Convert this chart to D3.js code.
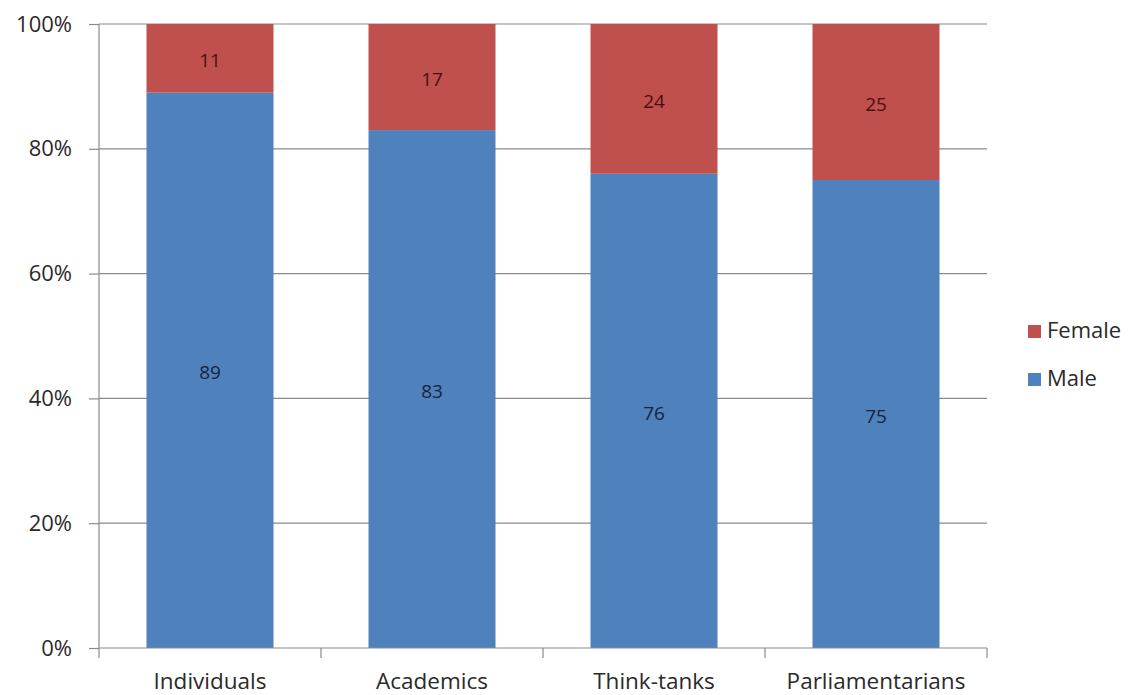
<!DOCTYPE html>
<html>
<head>
<meta charset="utf-8">
<script src="https://cdn.jsdelivr.net/npm/d3@7"></script>
<style>
  html, body { margin: 0; padding: 0; background: #fff; }
  svg { display: block; font-family: "Open Sans", "DejaVu Sans", sans-serif; }
</style>
</head>
<body>
<svg id="chart" width="1148" height="695"></svg>
<script>
// Share of contributors by gender in each group (percent)
const categories = ["Individuals", "Academics", "Think-tanks", "Parliamentarians"];
const male = [89, 83, 76, 75];
const female = [11, 17, 24, 25];
const seriesNames = ["Male", "Female"];
const yTicks = [0, 20, 40, 60, 80, 100];

const colors = { Male: "#4F81BD", Female: "#C0504D" };
const labelColors = { Male: "#16243d", Female: "#4a0f0f" };

const svg = d3.select("#chart");
const margin = { left: 99, right: 161, top: 24, bottom: 47 };
const W = 1148, H = 695;
const x0 = margin.left, x1 = W - margin.right;
const yTop = margin.top, yBot = H - margin.bottom;

const x = d3.scaleBand().domain(categories).range([x0, x1])
  .paddingInner(0.428).paddingOuter(0.214);
const y = d3.scaleLinear().domain([0, 100]).range([yBot, yTop]);

const rows = categories.map((c, i) => ({ category: c, Male: male[i], Female: female[i] }));
const stacked = d3.stack().keys(seriesNames)(rows);

// Horizontal gridlines
svg.append("g")
  .selectAll("line")
  .data(yTicks.filter(t => t > 0))
  .join("line")
  .attr("x1", x0).attr("x2", x1)
  .attr("y1", d => y(d)).attr("y2", d => y(d))
  .attr("stroke", "#8a8a8a").attr("stroke-width", 1.2);

// Stacked bars
const layers = svg.append("g").selectAll("g")
  .data(stacked)
  .join("g")
  .attr("fill", d => colors[d.key]);

layers.selectAll("rect")
  .data(d => d.map(v => ({ v, key: d.key })))
  .join("rect")
  .attr("x", d => x(d.v.data.category))
  .attr("width", x.bandwidth())
  .attr("y", d => y(d.v[1]))
  .attr("height", d => y(d.v[0]) - y(d.v[1]));

// Value labels centred in each segment
layers.selectAll("text")
  .data(d => d.map(v => ({ v, key: d.key })))
  .join("text")
  .attr("x", d => x(d.v.data.category) + x.bandwidth() / 2)
  .attr("y", d => y((d.v[0] + d.v[1]) / 2) + 4)
  .attr("text-anchor", "middle")
  .attr("dominant-baseline", "middle")
  .attr("font-size", 19)
  .attr("fill", d => labelColors[d.key])
  .text(d => d.v.data[d.key]);

// Y axis
const yAxis = svg.append("g")
  .attr("transform", `translate(${x0},0)`)
  .call(d3.axisLeft(y).tickValues(yTicks).tickFormat(d => d + "%").tickSize(10).tickPadding(17));
yAxis.select(".domain").attr("stroke", "#8a8a8a").attr("stroke-width", 1.2)
  .attr("d", `M0,${yTop}V${yBot}`);
yAxis.selectAll(".tick line").attr("stroke", "#8a8a8a").attr("stroke-width", 1.2);
yAxis.selectAll(".tick text").attr("font-size", 22).attr("fill", "#2a2a2a")
  .attr("font-family", "\"Open Sans\", sans-serif");

// X axis with tick marks between categories
const xAxis = svg.append("g").attr("transform", `translate(0,${yBot})`);
xAxis.append("line")
  .attr("x1", x0).attr("x2", x1).attr("y1", 0).attr("y2", 0)
  .attr("stroke", "#8a8a8a").attr("stroke-width", 1.2);
const boundaries = d3.range(categories.length + 1).map(i => x0 + i * x.step());
xAxis.selectAll("line.tick")
  .data(boundaries)
  .join("line")
  .attr("class", "tick")
  .attr("x1", d => d).attr("x2", d => d)
  .attr("y1", 0).attr("y2", 10)
  .attr("stroke", "#8a8a8a").attr("stroke-width", 1.2);
xAxis.selectAll("text")
  .data(categories)
  .join("text")
  .attr("x", d => x(d) + x.bandwidth() / 2)
  .attr("y", 41)
  .attr("text-anchor", "middle")
  .attr("font-size", 22.5)
  .attr("fill", "#2a2a2a")
  .text(d => d);

// Legend
const legendOrder = ["Female", "Male"];
const legend = svg.append("g").attr("transform", "translate(1028,325)")
  .selectAll("g")
  .data(legendOrder)
  .join("g")
  .attr("transform", (d, i) => `translate(0,${i * 48})`);
legend.append("rect")
  .attr("width", 13).attr("height", 13)
  .attr("fill", d => colors[d]);
legend.append("text")
  .attr("x", 19).attr("y", 7)
  .attr("dominant-baseline", "middle")
  .attr("font-size", 22)
  .attr("fill", "#2a2a2a")
  .text(d => d);
</script>
</body>
</html>
